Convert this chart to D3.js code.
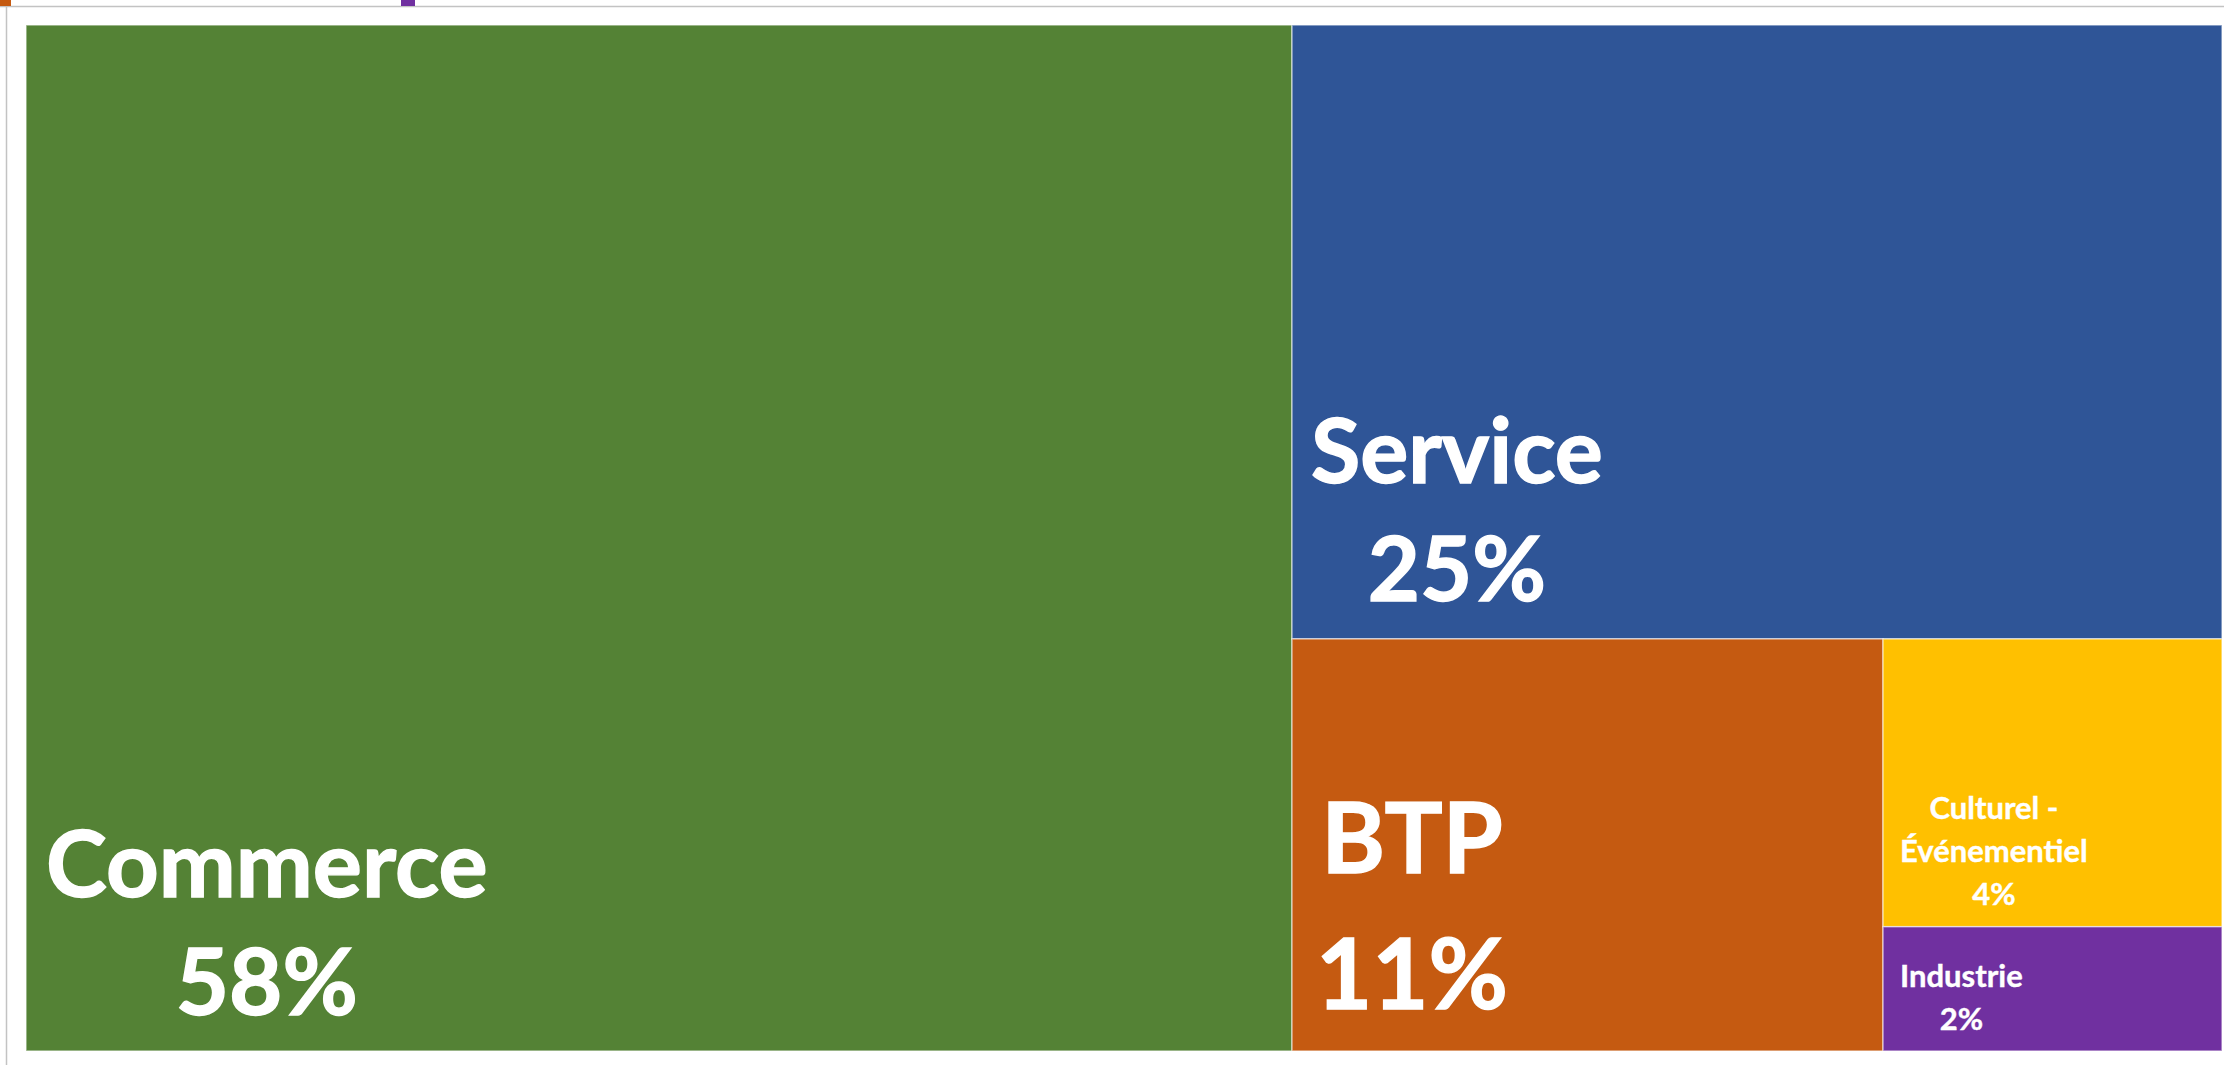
<!DOCTYPE html>
<html>
<head>
<meta charset="utf-8">
<script src="https://cdn.jsdelivr.net/npm/d3@7"></script>
<style>
  html, body { margin: 0; padding: 0; background: #fff; }
  svg { display: block; }
  .label { font-family: Lato, "Open Sans", sans-serif; font-weight: 700; fill: #fff; stroke: #fff; }
</style>
</head>
<body>
<div id="chart"></div>
<script>
//chart data
const categories = ["Commerce", "Service", "BTP", "Culturel - Événementiel", "Industrie"];
const values = [57.65, 25.34, 10.81, 4.33, 1.87];
const shares = ["58%", "25%", "11%", "4%", "2%"];
const labelLines = [["Commerce"], ["Service"], ["BTP"], ["Culturel -", "Événementiel"], ["Industrie"]];

//styles for each tile
const colors = ["#548235", "#2F5597", "#C55A11", "#FFC000", "#7030A0"];
const fontSizes = [92, 90, 97, 31, 31];
const strokeWidths = [1.4, 1.4, 1.4, 0.4, 0.4];
const lineHeights = [118, 118, 136, 43, 43];
const padBottom = [36, 38, 42, 22, 21];
const padLeft = [20, 19, 24, 17, 17];

//setting visual dimensions
const width = 2224;
const height = 1065;
const box = { x: 26, y: 25, w: 2196, h: 1026 };

const svg = d3.select("#chart")
  .append("svg")
  .attr("width", width)
  .attr("height", height);

//frame lines and cut legend markers at the top
svg.append("line")
  .attr("x1", 0).attr("x2", width)
  .attr("y1", 6.5).attr("y2", 6.5)
  .attr("stroke", "#c3c3c3").attr("stroke-width", 1.5);
svg.append("line")
  .attr("x1", 6.5).attr("x2", 6.5)
  .attr("y1", 6).attr("y2", height)
  .attr("stroke", "#c3c3c3").attr("stroke-width", 1.5);
svg.append("rect").attr("x", 0).attr("y", 0).attr("width", 11).attr("height", 6).attr("fill", colors[2]);
svg.append("rect").attr("x", 401).attr("y", 0).attr("width", 14).attr("height", 6).attr("fill", colors[4]);

//build hierarchy for the treemap
const rows = categories.map((c, i) => ({ name: c, value: values[i], share: shares[i], lines: labelLines[i], idx: i }));
const root = d3.hierarchy({ children: rows })
  .sum(d => d.value)
  .sort((a, b) => b.value - a.value);

d3.treemap()
  .tile(d3.treemapSquarify.ratio(1))
  .size([box.w, box.h])
  .paddingInner(0)(root);

const g = svg.append("g").attr("transform", `translate(${box.x},${box.y})`);

const leaf = g.selectAll("g.leaf")
  .data(root.leaves())
  .enter()
  .append("g")
  .attr("class", "leaf");

leaf.append("rect")
  .attr("x", d => d.x0)
  .attr("y", d => d.y0)
  .attr("width", d => d.x1 - d.x0)
  .attr("height", d => d.y1 - d.y0)
  .attr("fill", d => colors[d.data.idx])
  .attr("stroke", "rgba(255,255,255,0.55)")
  .attr("stroke-width", 1.5);

//labels: block anchored bottom-left, lines centred on the widest line
leaf.each(function(d) {
  const i = d.data.idx;
  const lines = d.data.lines.concat([d.data.share]);
  const text = d3.select(this).append("text")
    .attr("class", "label")
    .style("font-size", fontSizes[i] + "px")
    .style("stroke-width", strokeWidths[i]);
  const spans = text.selectAll("tspan")
    .data(lines)
    .enter()
    .append("tspan")
    .text(t => t);
  const widths = spans.nodes().map(n => n.getComputedTextLength());
  const blockW = d3.max(widths);
  const cx = d.x0 + padLeft[i] + blockW / 2;
  const lastY = d.y1 - padBottom[i];
  spans
    .attr("text-anchor", "middle")
    .attr("x", cx)
    .attr("y", (t, k) => lastY - (lines.length - 1 - k) * lineHeights[i]);
});
</script>
</body>
</html>
